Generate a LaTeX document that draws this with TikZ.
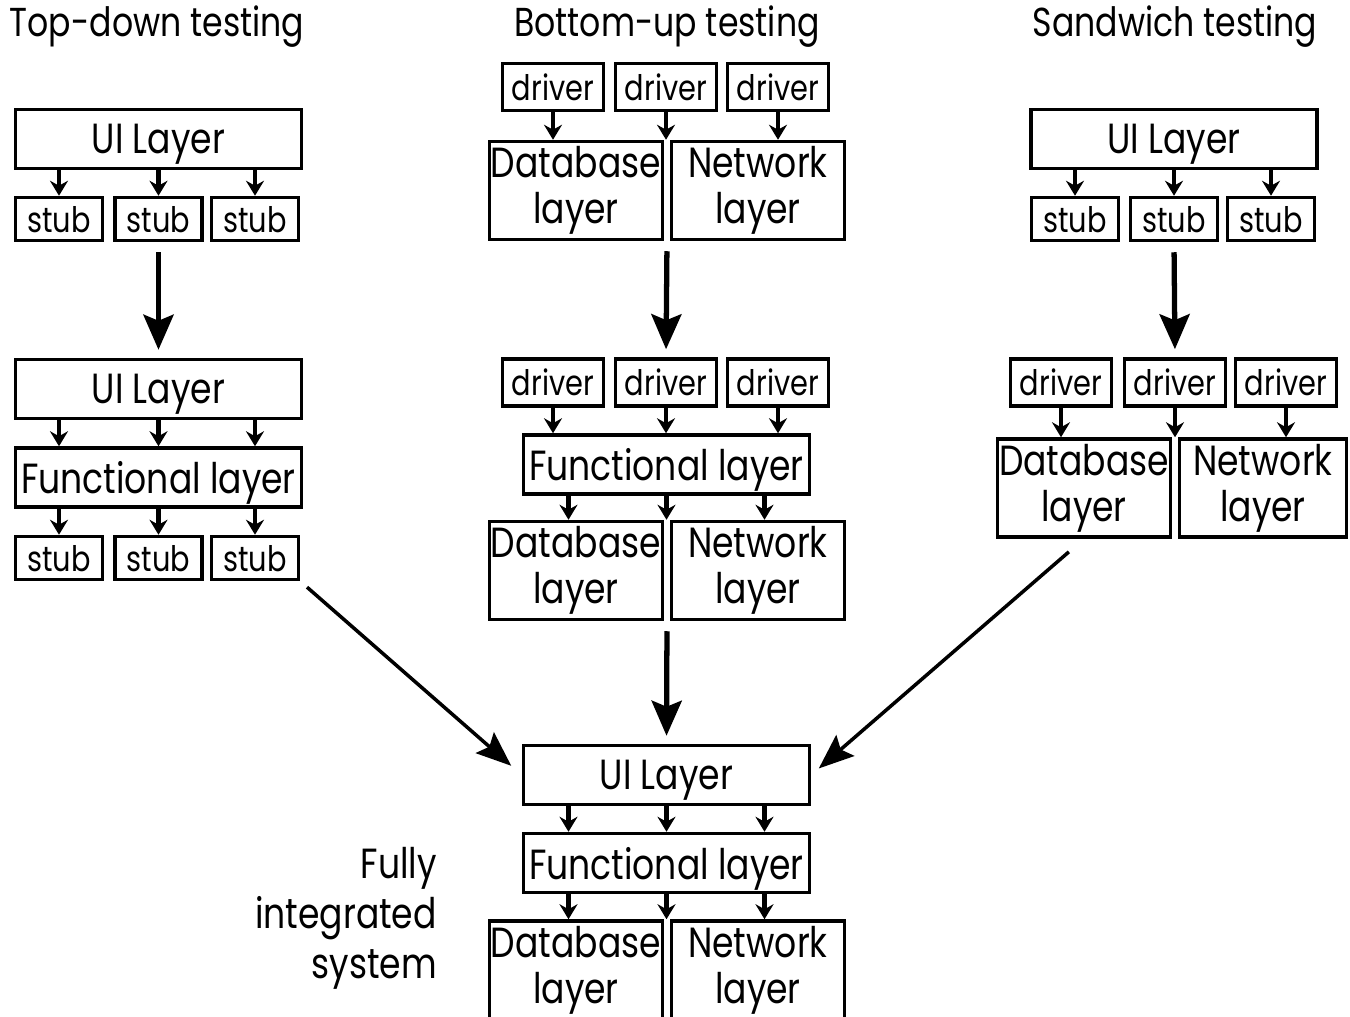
\documentclass[tikz,border=0pt]{standalone}
\usepackage{fontspec}
\setmainfont{Poppins}[FakeStretch=0.82]
\usetikzlibrary{arrows.meta,calc}

\begin{document}
\begin{tikzpicture}[x=0.02cm,y=-0.02cm,
  box/.style={draw,line width=2pt,inner sep=0pt,align=center,font=\fontsize{24}{26}\selectfont},
  wide/.style={box,minimum width=5.72cm,minimum height=1.18cm,text depth=0pt},
  half/.style={box,minimum width=3.46cm,minimum height=1.96cm},
  stubbox/.style={box,minimum width=1.74cm,minimum height=0.86cm,text depth=0pt,font=\fontsize{20}{22}\selectfont},
  driverbox/.style={box,minimum width=2.02cm,minimum height=0.94cm,text depth=0pt,font=\fontsize{20}{22}\selectfont},
  title/.style={font=\fontsize{23}{26}\selectfont},
  small arrow/.style={-{Stealth[length=0.3cm,width=0.36cm,inset=0.1cm]},line width=2.4pt},
  big arrow/.style={-{Stealth[length=0.7cm,width=0.6cm,inset=0.12cm]},line width=3pt,shorten <=0.2cm,shorten >=0.16cm},
  diag arrow/.style={-{Stealth[length=0.7cm,width=0.55cm,inset=0.12cm]},line width=2pt}]

  \clip (0,0) rectangle (1350,1017);

  % titles
  \node[title] (tdtitle) at (157,27) {Top-down testing};
  \node[title] (butitle) at (667,27) {Bottom-up testing};
  \node[title] (swtitle) at (1175,27) {Sandwich testing};

  % top-down
  \node[wide] (tdui) at (158.5,139) {UI Layer};
  \node[stubbox] (tds1) at (59,219) {stub};
  \node[stubbox] (tds2) at (158.5,219) {stub};
  \node[stubbox] (tds3) at (255,219) {stub};
  \node[wide] (tdui2) at (158.5,389) {UI Layer};
  \node[wide] (tdfn) at (158.5,477.5) {Functional layer};
  \node[stubbox] (tds4) at (59,558) {stub};
  \node[stubbox] (tds5) at (158.5,558) {stub};
  \node[stubbox] (tds6) at (255,558) {stub};

  % bottom-up
  \node[driverbox] (bud1) at (553,87) {driver};
  \node[driverbox] (bud2) at (666,87) {driver};
  \node[driverbox] (bud3) at (778,87) {driver};
  \node[half] (budb) at (576,190.5) {Database\\layer};
  \node[half] (bunw) at (758,190.5) {Network\\layer};
  \node[driverbox] (bud4) at (553,382.5) {driver};
  \node[driverbox] (bud5) at (666,382.5) {driver};
  \node[driverbox] (bud6) at (778,382.5) {driver};
  \node[wide] (bufn) at (666.5,464.5) {Functional layer};
  \node[half] (budb2) at (576,570.5) {Database\\layer};
  \node[half] (bunw2) at (758,570.5) {Network\\layer};
  \coordinate (bumid) at ($(budb.south)!0.5!(bunw.south)$);
  \coordinate (bumid2) at ($(budb2.south)!0.5!(bunw2.south)$);

  % sandwich
  \node[wide] (swui) at (1174,139) {UI Layer};
  \node[stubbox] (sws1) at (1075,219) {stub};
  \node[stubbox] (sws2) at (1174,219) {stub};
  \node[stubbox] (sws3) at (1271,219) {stub};
  \node[driverbox] (swd1) at (1061,382.5) {driver};
  \node[driverbox] (swd2) at (1175,382.5) {driver};
  \node[driverbox] (swd3) at (1286,382.5) {driver};
  \node[half] (swdb) at (1084,488) {Database\\layer};
  \node[half,minimum width=3.34cm] (swnw) at (1263,488) {Network\\layer};

  % fully integrated
  \node[wide] (fiui) at (666.5,775) {UI Layer};
  \node[wide] (fifn) at (666.5,863) {Functional layer};
  \node[half] (fidb) at (576,970) {Database\\layer};
  \node[half] (finw) at (758,970) {Network\\layer};
  \node[align=right,anchor=east,font=\fontsize{24}{28.5}\selectfont] (filabel) at (443,918) {Fully\\integrated\\system};

  % small arrows
  \foreach \s in {tds1,tds2,tds3}
    \draw[small arrow] (tdui.south -| \s.north) -- (\s.north);
  \foreach \s in {tds4,tds5,tds6}
    \draw[small arrow] (tdfn.south -| \s.north) -- (\s.north);
  \foreach \s in {tds4,tds5,tds6}
    \draw[small arrow] (tdui2.south -| \s.north) -- (tdfn.north -| \s.north);
  \foreach \s in {sws1,sws2,sws3}
    \draw[small arrow] (swui.south -| \s.north) -- (\s.north);
  \foreach \d in {bud1,bud2,bud3}
    \draw[small arrow] (\d.south) -- (\d.south |- budb.north);
  \foreach \d in {bud4,bud5,bud6}
    \draw[small arrow] (\d.south) -- (\d.south |- bufn.north);
  \foreach \d in {swd1,swd2,swd3}
    \draw[small arrow] (\d.south) -- (\d.south |- swdb.north);
  \foreach \dx in {-98,0,98} {
    \coordinate (fa) at ($(bufn.south)+(\dx,0)$);
    \coordinate (fb) at ($(fiui.south)+(\dx,0)$);
    \coordinate (fc) at ($(fifn.south)+(\dx,0)$);
    \draw[small arrow] (fa) -- (fa |- budb2.north);
    \draw[small arrow] (fb) -- (fb |- fifn.north);
    \draw[small arrow] (fc) -- (fc |- fidb.north);
  }

  % big arrows
  \draw[big arrow] (tds2.south) -- (tdui2.north);
  \draw[big arrow] (bumid) -- (bud5.north);
  \draw[big arrow] (bumid2) -- (fiui.north);
  \draw[big arrow] (sws2.south) -- (swd2.north);
  \draw[diag arrow,shorten <=0.18cm,shorten >=0.28cm] (tds6.south east) -- (fiui.west);
  \draw[diag arrow,shorten <=0.4cm,shorten >=0.2cm] (swdb.south) -- (fiui.east);
\end{tikzpicture}
\end{document}
